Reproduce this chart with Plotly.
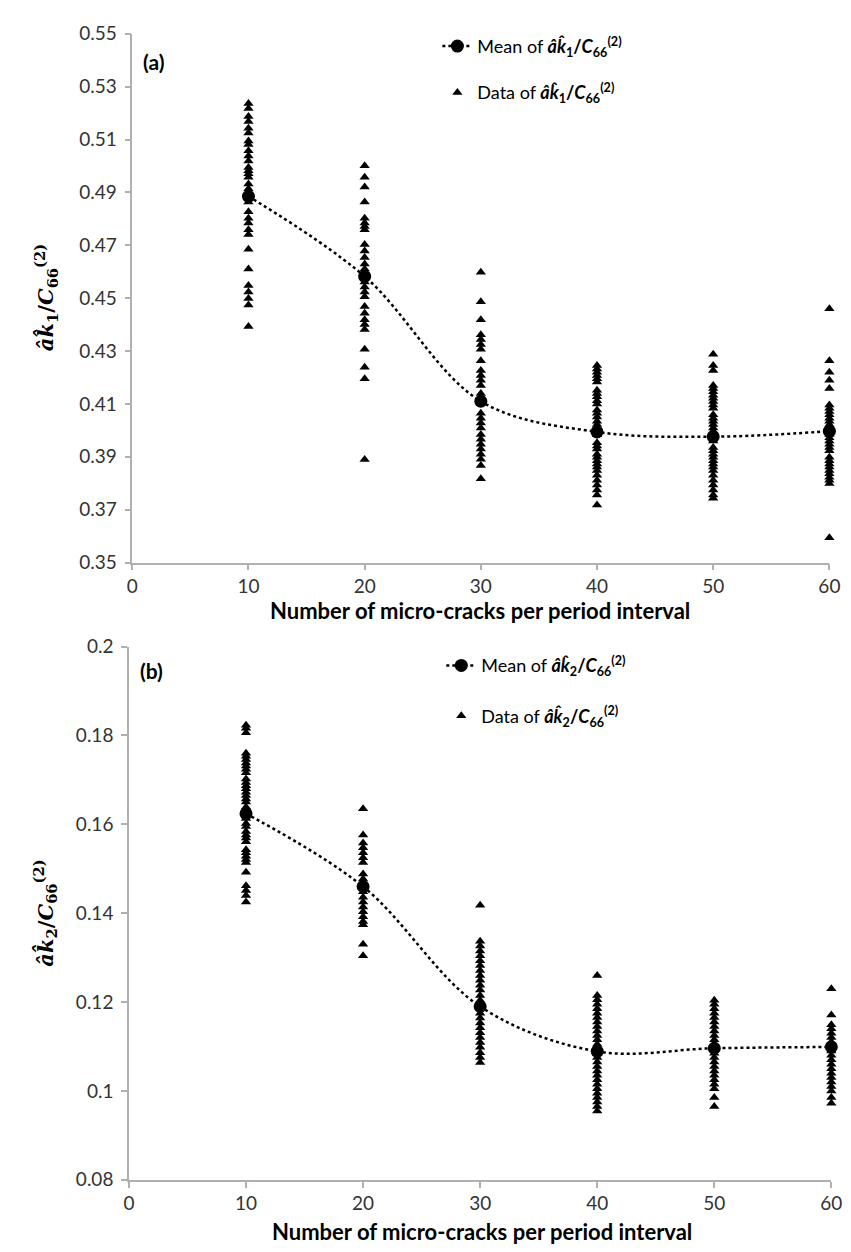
import plotly.graph_objects as go

# ---------------- data ----------------
x_ticks = [0, 10, 20, 30, 40, 50, 60]
cracks = [10, 20, 30, 40, 50, 60]

# panel (a): a*k1 / C66^(2)
a_data_10 = [0.5236, 0.5217, 0.5187, 0.5168, 0.5143, 0.5125, 0.5094, 0.5081, 0.5057, 0.5038,
             0.5019, 0.4994, 0.4982, 0.4970, 0.4957, 0.4932, 0.4914, 0.4864, 0.4827, 0.4802,
             0.4784, 0.4759, 0.4741, 0.4685, 0.4610, 0.4548, 0.4523, 0.4499, 0.4474, 0.4393]
a_data_20 = [0.5001, 0.4957, 0.4920, 0.4864, 0.4802, 0.4784, 0.4771, 0.4759, 0.4703, 0.4678,
             0.4654, 0.4629, 0.4610, 0.4586, 0.4561, 0.4542, 0.4523, 0.4505, 0.4468, 0.4443,
             0.4418, 0.4400, 0.4381, 0.4307, 0.4239, 0.4195, 0.3890]
a_data_30 = [0.4598, 0.4486, 0.4418, 0.4362, 0.4344, 0.4325, 0.4307, 0.4263, 0.4226, 0.4207,
             0.4189, 0.4170, 0.4139, 0.4121, 0.4102, 0.4065, 0.4046, 0.4028, 0.4009, 0.3984,
             0.3966, 0.3947, 0.3929, 0.3910, 0.3891, 0.3867, 0.3817]
a_data_40 = [0.4245, 0.4232, 0.4220, 0.4207, 0.4195, 0.4183, 0.4152, 0.4139, 0.4127, 0.4112,
             0.4100, 0.4077, 0.4065, 0.4050, 0.4034, 0.4022, 0.4003, 0.3984, 0.3953, 0.3941,
             0.3929, 0.3910, 0.3898, 0.3885, 0.3873, 0.3861, 0.3848, 0.3830, 0.3811, 0.3793,
             0.3774, 0.3755, 0.3718]
a_data_50 = [0.4288, 0.4245, 0.4226, 0.4170, 0.4158, 0.4146, 0.4133, 0.4121, 0.4109, 0.4096,
             0.4084, 0.4059, 0.4046, 0.4034, 0.4022, 0.4009, 0.3997, 0.3960, 0.3935, 0.3923,
             0.3910, 0.3898, 0.3885, 0.3873, 0.3861, 0.3848, 0.3830, 0.3811, 0.3793, 0.3774,
             0.3755, 0.3743]
a_data_60 = [0.4460, 0.4263, 0.4220, 0.4189, 0.4158, 0.4096, 0.4084, 0.4071, 0.4059, 0.4046,
             0.4034, 0.4022, 0.4009, 0.3984, 0.3972, 0.3960, 0.3947, 0.3935, 0.3923, 0.3898,
             0.3885, 0.3873, 0.3861, 0.3848, 0.3836, 0.3823, 0.3811, 0.3799, 0.3594]
a_mean = [0.4885, 0.4582, 0.4110, 0.3994, 0.3976, 0.3997]

# panel (b): a*k2 / C66^(2)
b_data_10 = [0.1823, 0.1816, 0.1806, 0.1760, 0.1753, 0.1746, 0.1738, 0.1731, 0.1724, 0.1716,
             0.1702, 0.1694, 0.1687, 0.1680, 0.1672, 0.1665, 0.1657, 0.1650, 0.1639, 0.1632,
             0.1613, 0.1602, 0.1595, 0.1584, 0.1576, 0.1569, 0.1561, 0.1543, 0.1536, 0.1528,
             0.1521, 0.1514, 0.1492, 0.1462, 0.1451, 0.1440, 0.1425]
b_data_20 = [0.1635, 0.1576, 0.1558, 0.1547, 0.1536, 0.1525, 0.1514, 0.1488, 0.1477, 0.1466,
             0.1448, 0.1436, 0.1425, 0.1414, 0.1403, 0.1392, 0.1381, 0.1374, 0.1330, 0.1304]
b_data_30 = [0.1418, 0.1337, 0.1326, 0.1315, 0.1304, 0.1293, 0.1282, 0.1271, 0.1260, 0.1249,
             0.1238, 0.1227, 0.1215, 0.1204, 0.1175, 0.1164, 0.1153, 0.1142, 0.1131, 0.1120,
             0.1109, 0.1098, 0.1086, 0.1075, 0.1064]
b_data_40 = [0.1260, 0.1215, 0.1205, 0.1195, 0.1185, 0.1175, 0.1165, 0.1155, 0.1145, 0.1135,
             0.1125, 0.1115, 0.1105, 0.1095, 0.1085, 0.1075, 0.1065, 0.1055, 0.1045, 0.1035,
             0.1025, 0.1015, 0.1005, 0.0995, 0.0985, 0.0975, 0.0965, 0.0955]
b_data_50 = [0.1204, 0.1195, 0.1185, 0.1175, 0.1165, 0.1155, 0.1145, 0.1135, 0.1125, 0.1115,
             0.1105, 0.1095, 0.1085, 0.1075, 0.1065, 0.1055, 0.1045, 0.1035, 0.1025, 0.1015,
             0.1005, 0.0985, 0.0965]
b_data_60 = [0.1230, 0.1171, 0.1149, 0.1140, 0.1130, 0.1120, 0.1110, 0.1100, 0.1090, 0.1080,
             0.1070, 0.1060, 0.1050, 0.1040, 0.1030, 0.1020, 0.1010, 0.1000, 0.0985, 0.0972]
b_mean = [0.1624, 0.1460, 0.1190, 0.1089, 0.1096, 0.1099]

a_yticks = [0.35, 0.37, 0.39, 0.41, 0.43, 0.45, 0.47, 0.49, 0.51, 0.53, 0.55]
a_yticktext = ["0.35", "0.37", "0.39", "0.41", "0.43", "0.45", "0.47", "0.49", "0.51", "0.53", "0.55"]
b_yticks = [0.08, 0.10, 0.12, 0.14, 0.16, 0.18, 0.20]
b_yticktext = ["0.08", "0.1", "0.12", "0.14", "0.16", "0.18", "0.2"]

x_title = "Number of micro-cracks per period interval"
sym1 = "<b><i>a\u0302k\u0302</i><sub>1</sub>/<i>C</i><sub>66</sub><sup>(2)</sup></b>"
sym2 = "<b><i>a\u0302k\u0302</i><sub>2</sub>/<i>C</i><sub>66</sub><sup>(2)</sup></b>"


def flatten(groups):
    xs, ys = [], []
    for xv, g in zip(cracks, groups):
        xs += [xv] * len(g)
        ys += g
    return xs, ys


a_x, a_y = flatten([a_data_10, a_data_20, a_data_30, a_data_40, a_data_50, a_data_60])
b_x, b_y = flatten([b_data_10, b_data_20, b_data_30, b_data_40, b_data_50, b_data_60])

W, H = 851, 1252
FONT = "Lato, 'Open Sans', sans-serif"
MATHFONT = "'DejaVu Serif', serif"

fig = go.Figure()

for (xs, ys, mean, sym, xa, ya, lg) in [
    (a_x, a_y, a_mean, sym1, "x", "y", "legend"),
    (b_x, b_y, b_mean, sym2, "x2", "y2", "legend2"),
]:
    fig.add_trace(go.Scatter(
        x=xs, y=ys, mode="markers", xaxis=xa, yaxis=ya, legend=lg,
        name="Data of " + sym, legendgroup="d" + xa, legendrank=2,
        marker=dict(symbol="triangle-up", size=9, color="black"),
        cliponaxis=False,
    ))
    fig.add_trace(go.Scatter(
        x=cracks, y=mean, mode="lines+markers", xaxis=xa, yaxis=ya, legend=lg,
        name="Mean of " + sym, legendgroup="m" + xa, legendrank=1,
        line=dict(color="black", width=2.5, dash="dot", shape="spline", smoothing=1.0),
        marker=dict(symbol="circle", size=13, color="black"),
        cliponaxis=False,
    ))

axis_common = dict(
    showgrid=False, zeroline=False, showline=True, linecolor="#b0b0b0", linewidth=1.5,
    ticks="outside", tickcolor="#b0b0b0", ticklen=6, tickwidth=1.5,
    tickfont=dict(family=FONT, size=19, color="#333333"),
)

xa_dom = [120.7 / W, 832 / W]
xb_dom = [117.3 / W, 834 / W]
ya_dom = [1 - 552.7 / H, 1 - 14 / H]
yb_dom = [1 - 1181.5 / H, 1 - 638.3 / H]

fig.update_layout(
    width=W, height=H, margin=dict(l=0, r=0, t=0, b=0),
    paper_bgcolor="white", plot_bgcolor="white",
    font=dict(family=FONT, color="black"),
    xaxis=dict(domain=xa_dom, range=[0, 60], tickvals=x_ticks, anchor="y",
               ticklabelstandoff=0, **axis_common),
    yaxis=dict(domain=ya_dom, range=[0.35, 0.55], tickvals=a_yticks, ticktext=a_yticktext,
               anchor="x", ticklabelstandoff=4, **axis_common),
    xaxis2=dict(domain=xb_dom, range=[0, 60], tickvals=x_ticks, anchor="y2",
                ticklabelstandoff=0, **axis_common),
    yaxis2=dict(domain=yb_dom, range=[0.08, 0.2], tickvals=b_yticks, ticktext=b_yticktext,
                anchor="x2", ticklabelstandoff=4, **axis_common),
    legend=dict(x=432 / W, y=1 - 8 / H, xanchor="left", yanchor="top",
                bgcolor="rgba(0,0,0,0)", traceorder="grouped", tracegroupgap=20,
                font=dict(family=FONT, size=18, color="black"), itemwidth=30),
    legend2=dict(x=436 / W, y=1 - 639 / H, xanchor="left", yanchor="top",
                 bgcolor="rgba(0,0,0,0)", traceorder="grouped", tracegroupgap=24,
                 font=dict(family=FONT, size=18, color="black"), itemwidth=30),
    showlegend=True,
)

ann = [
    dict(text="<b>(a)</b>", x=130 / W, y=1 - 42 / H, xref="paper", yref="paper",
         xanchor="left", yanchor="middle", showarrow=False, font=dict(family=FONT, size=21)),
    dict(text="<b>(b)</b>", x=127 / W, y=1 - 663 / H, xref="paper", yref="paper",
         xanchor="left", yanchor="middle", showarrow=False, font=dict(family=FONT, size=21)),
    dict(text="<b>" + x_title + "</b>", x=475 / W, y=1 - 602 / H, xref="paper", yref="paper",
         xanchor="center", yanchor="middle", showarrow=False,
         font=dict(family=FONT, size=22, color="black")),
    dict(text="<b>" + x_title + "</b>", x=478 / W, y=1 - 1234 / H, xref="paper", yref="paper",
         xanchor="center", yanchor="middle", showarrow=False,
         font=dict(family=FONT, size=22, color="black")),
    dict(text=sym1, x=32 / W, y=1 - 283 / H, xref="paper", yref="paper", textangle=-90,
         xanchor="center", yanchor="middle", showarrow=False,
         font=dict(family=MATHFONT, size=21, color="black")),
    dict(text=sym2, x=32 / W, y=1 - 910 / H, xref="paper", yref="paper", textangle=-90,
         xanchor="center", yanchor="middle", showarrow=False,
         font=dict(family=MATHFONT, size=21, color="black")),
]
fig.update_layout(annotations=ann)

fig.write_html("out.html")
